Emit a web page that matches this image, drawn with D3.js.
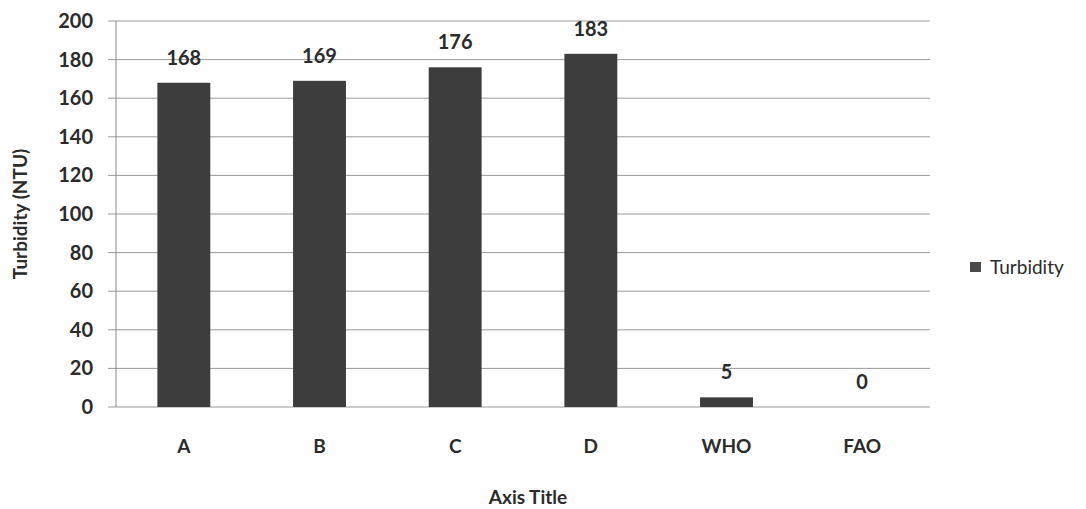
<!DOCTYPE html>
<html>
<head>
<meta charset="utf-8">
<script src="https://cdn.jsdelivr.net/npm/d3@7"></script>
<style>
  body { margin: 0; background: #fff; }
  svg text { font-family: Lato, "Open Sans", sans-serif; font-weight: bold; fill: #2b2b2b; }
</style>
</head>
<body>
<div id="chart"></div>
<script>
// data
const categories = ["A", "B", "C", "D", "WHO", "FAO"];
const turbidity = [168, 169, 176, 183, 5, 0];
const yTicks = [0, 20, 40, 60, 80, 100, 120, 140, 160, 180, 200];

const W = 1086, H = 509;
const margin = { left: 116, right: 156, top: 21, bottom: 102 };

const svg = d3.select("#chart").append("svg")
  .attr("width", W)
  .attr("height", H);

const x = d3.scaleBand()
  .domain(categories)
  .range([margin.left, W - margin.right])
  .paddingInner(0.61)
  .paddingOuter(0.305);

const y = d3.scaleLinear()
  .domain([0, 200])
  .range([H - margin.bottom, margin.top]);

// gridlines
svg.append("g")
  .selectAll("line")
  .data(yTicks)
  .join("line")
  .attr("x1", margin.left - 8)
  .attr("x2", W - margin.right)
  .attr("y1", d => y(d))
  .attr("y2", d => y(d))
  .attr("stroke", "#9a9a9a")
  .attr("stroke-width", 1);

// vertical axis line
svg.append("line")
  .attr("x1", margin.left).attr("x2", margin.left)
  .attr("y1", y(200)).attr("y2", y(0))
  .attr("stroke", "#8a8a8a");

// y tick labels
const yAxis = d3.axisLeft(y).tickValues(yTicks).tickSize(0).tickPadding(23);
const gy = svg.append("g")
  .attr("transform", `translate(${margin.left},0)`)
  .call(yAxis);
gy.select(".domain").remove();
gy.selectAll("text").style("font-size", "20px").style("font-family", "Lato, sans-serif").style("font-weight", "bold").attr("fill", "#2b2b2b");

// x tick labels
const xAxis = d3.axisBottom(x).tickSize(0).tickPadding(33);
const gx = svg.append("g")
  .attr("transform", `translate(0,${y(0)})`)
  .call(xAxis);
gx.select(".domain").remove();
gx.selectAll("text").style("font-size", "19px").style("font-family", "Lato, sans-serif").style("font-weight", "bold").attr("fill", "#2b2b2b");

// bars
svg.append("g")
  .selectAll("rect")
  .data(categories)
  .join("rect")
  .attr("x", d => x(d))
  .attr("width", x.bandwidth())
  .attr("y", (d, i) => y(turbidity[i]))
  .attr("height", (d, i) => y(0) - y(turbidity[i]))
  .attr("fill", "#3d3d3d");

// value labels
svg.append("g")
  .selectAll("text")
  .data(categories)
  .join("text")
  .attr("x", d => x(d) + x.bandwidth() / 2)
  .attr("y", (d, i) => y(turbidity[i]) - 18)
  .attr("text-anchor", "middle")
  .style("font-size", "20px")
  .text((d, i) => turbidity[i]);

// axis titles
svg.append("text")
  .attr("transform", `translate(27,${(y(0) + y(200)) / 2}) rotate(-90)`)
  .attr("text-anchor", "middle")
  .style("font-size", "19px")
  .text("Turbidity (NTU)");

svg.append("text")
  .attr("x", 528)
  .attr("y", 504)
  .attr("text-anchor", "middle")
  .style("font-size", "19px")
  .text("Axis Title");

// legend
svg.append("rect")
  .attr("x", 970).attr("y", 262)
  .attr("width", 11).attr("height", 10)
  .attr("fill", "#4a4a4a");
svg.append("text")
  .attr("x", 990).attr("y", 274)
  .style("font-size", "19px")
  .style("font-weight", "normal")
  .text("Turbidity");
</script>
</body>
</html>
